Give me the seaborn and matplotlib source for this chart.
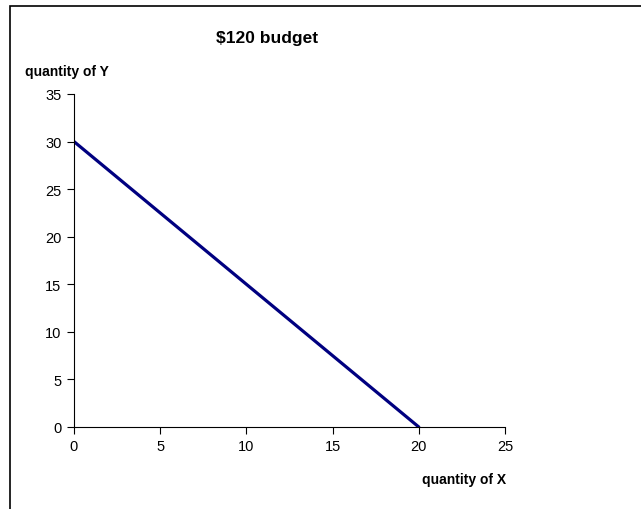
import matplotlib
matplotlib.use("Agg")
import matplotlib.pyplot as plt
import matplotlib.patches as patches
import pandas as pd
import seaborn as sns

# ============================
# DATA
# ============================
qty_x = [0, 1, 2, 3, 4, 5, 6, 7, 8, 9, 10, 11, 12, 13, 14, 15, 16, 17, 18, 19, 20]
qty_y = [30, 28.5, 27, 25.5, 24, 22.5, 21, 19.5, 18, 16.5, 15, 13.5, 12, 10.5, 9, 7.5, 6, 4.5, 3, 1.5, 0]
x_ticks = [0, 5, 10, 15, 20, 25]
y_ticks = [0, 5, 10, 15, 20, 25, 30, 35]

df = pd.DataFrame({"x": qty_x, "y": qty_y})

sns.set_style("ticks")
plt.rcParams["font.family"] = ["Liberation Sans", "DejaVu Sans"]
plt.rcParams["text.color"] = "black"

fig = plt.figure(figsize=(6.41, 5.10), dpi=100)
ax = fig.add_axes([74 / 641, 1 - 428 / 510, (505 - 74) / 641, (428 - 95) / 510])

sns.lineplot(data=df, x="x", y="y", ax=ax, color="#000080", linewidth=2.3)

ax.set_xlim(0, 25)
ax.set_ylim(0, 35)
ax.set_xticks(x_ticks)
ax.set_yticks(y_ticks)
ax.set_xlabel("")
ax.set_ylabel("")
ax.tick_params(axis="both", direction="out", length=5, width=0.8, labelsize=10.5,
               colors="black", labelcolor="black", pad=4)
for s in ["top", "right"]:
    ax.spines[s].set_visible(False)
for s in ["left", "bottom"]:
    ax.spines[s].set_color("black")
    ax.spines[s].set_linewidth(0.8)

fig.text(267 / 641, 1 - 39 / 510, "$120 budget", ha="center", va="center",
         fontsize=12.5, fontweight="bold", color="black")
fig.text(25 / 641, 1 - 72 / 510, "quantity of Y", ha="left", va="center",
         fontsize=10, fontweight="bold", color="black")
fig.text(506 / 641, 1 - 480 / 510, "quantity of X", ha="right", va="center",
         fontsize=10, fontweight="bold", color="black")

# chart border (cropped on right and bottom)
border = patches.Rectangle((10 / 641, -0.05), 1.0, 1 - 7 / 510 + 0.05, transform=fig.transFigure,
                           fill=False, edgecolor="black", linewidth=1.2, clip_on=False)
fig.patches.append(border)

fig.savefig("out.png", dpi=100)
